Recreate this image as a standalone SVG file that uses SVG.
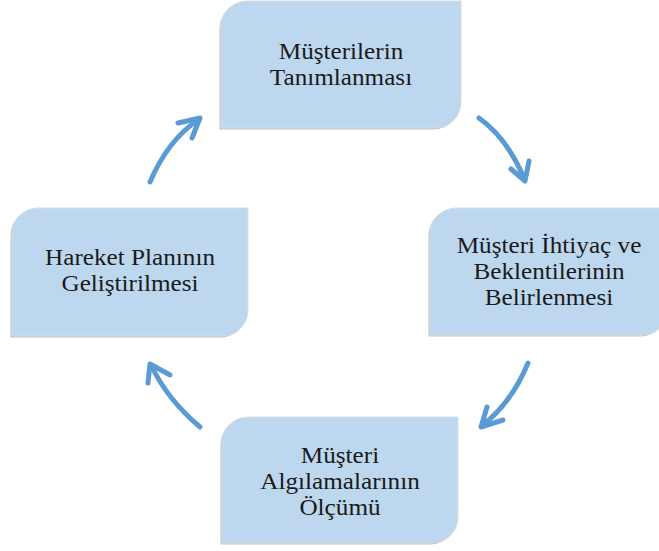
<svg xmlns="http://www.w3.org/2000/svg" width="659" height="551" viewBox="0 0 659 551">
<defs>
<style>
.box{fill:#BDD7EE;stroke:#d6dde4;stroke-width:1}
.sh{fill:#c2c2c2}
.t{font-family:"Liberation Serif","Times New Roman",serif;font-size:22.5px;fill:#1a1a1a;text-anchor:middle}
.arr{fill:none;stroke:#5B9BD5;stroke-width:5;stroke-linecap:round;stroke-linejoin:round}
</style>
</defs>
<rect width="659" height="551" fill="#ffffff"/>
<g id="n1">
<path class="sh" transform="translate(-1.5,1.5)" d="M221,128 L221,27 A26,26 0 0 1 247,1 L461,1 L461,102 A26,26 0 0 1 435,128 Z"/>
<path class="box" d="M221,128 L221,27 A26,26 0 0 1 247,1 L461,1 L461,102 A26,26 0 0 1 435,128 Z"/>
<g transform="translate(341,0) scale(1.12,1)">
<text class="t" x="0" y="59">Müşterilerin</text>
<text class="t" x="0" y="85">Tanımlanması</text>
</g>
</g>
<g id="n2">
<path class="sh" transform="translate(-1.5,1.5)" d="M430,335 L430,234 A26,26 0 0 1 456,208 L668,208 L668,309 A26,26 0 0 1 642,335 Z"/>
<path class="box" d="M430,335 L430,234 A26,26 0 0 1 456,208 L668,208 L668,309 A26,26 0 0 1 642,335 Z"/>
<g transform="translate(549,0) scale(1.12,1)">
<text class="t" x="0" y="253">Müşteri İhtiyaç ve</text>
<text class="t" x="0" y="279">Beklentilerinin</text>
<text class="t" x="0" y="305">Belirlenmesi</text>
</g>
</g>
<g id="n3">
<path class="sh" transform="translate(-1.5,1.5)" d="M222,543 L222,443 A26,26 0 0 1 248,417 L458,417 L458,517 A26,26 0 0 1 432,543 Z"/>
<path class="box" d="M222,543 L222,443 A26,26 0 0 1 248,417 L458,417 L458,517 A26,26 0 0 1 432,543 Z"/>
<g transform="translate(340,0) scale(1.12,1)">
<text class="t" x="0" y="463">Müşteri</text>
<text class="t" x="0" y="489">Algılamalarının</text>
<text class="t" x="0" y="515">Ölçümü</text>
</g>
</g>
<g id="n4">
<path class="sh" transform="translate(-1.5,1.5)" d="M12,336 L12,234 A26,26 0 0 1 38,208 L248,208 L248,310 A26,26 0 0 1 222,336 Z"/>
<path class="box" d="M12,336 L12,234 A26,26 0 0 1 38,208 L248,208 L248,310 A26,26 0 0 1 222,336 Z"/>
<g transform="translate(130,0) scale(1.12,1)">
<text class="t" x="0" y="265">Hareket Planının</text>
<text class="t" x="0" y="291">Geliştirilmesi</text>
</g>
</g>
<g id="connectors">
<path class="arr" d="M479,118 Q507,138 524,178"/>
<path class="arr" d="M511,169 L525,181 L529,161"/>
<path class="arr" d="M528,363 Q512,402 483,425"/>
<path class="arr" d="M503,420 L481,427 L487,407"/>
<path class="arr" d="M200,427 Q168,400 152,367"/>
<path class="arr" d="M170,375 L150,364 L148,383"/>
<path class="arr" d="M150,182 Q168,140 198,120"/>
<path class="arr" d="M178,123 L200,118 L192,138"/>
</g>
</svg>
